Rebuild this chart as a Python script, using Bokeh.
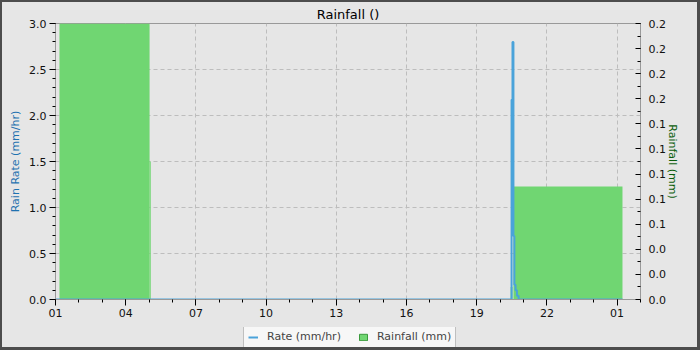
from bokeh.plotting import figure
from bokeh.layouts import column
from bokeh.models import Range1d, LinearAxis, FixedTicker, Legend, LegendItem
from bokeh.embed import file_html
from bokeh.resources import INLINE

# ---- data ----
# x positions are days counted from the first "01" tick
x_tick_pos = [0, 3, 6, 9, 12, 15, 18, 21, 24]
x_tick_labels = ["01", "04", "07", "10", "13", "16", "19", "22", "01"]
x_minor_pos = list(range(0, 26))

# rain rate (mm/hr), stepped series
rate_time = [0.0, 19.49, 19.53, 19.57, 19.61, 19.66, 19.72, 19.79, 24.23]
rate_mmhr = [0.0, 2.17, 2.80, 0.69, 0.16, 0.10, 0.04, 0.0, 0.0]

# rainfall (mm) bars
rain_start = [0.17, 4.02, 19.45, 19.57]
rain_end = [4.02, 4.07, 19.53, 24.23]
rain_mm = [0.22, 0.11, 0.01, 0.09]

left_ticks = [0.0, 0.5, 1.0, 1.5, 2.0, 2.5, 3.0]
left_labels = ["0.0", "0.5", "1.0", "1.5", "2.0", "2.5", "3.0"]
left_minor = [round(i * 0.1, 1) for i in range(31)]

right_ticks = [round(i * 0.02, 2) for i in range(12)]
right_labels = ["0.0", "0.0", "0.0", "0.1", "0.1", "0.1", "0.1", "0.1", "0.2", "0.2", "0.2", "0.2"]
right_minor = [round(i * 0.01, 2) for i in range(23)]

BLUE = "#4aa3da"
GREEN = "#70d672"
BG = "#e6e6e6"
FONT = "DejaVu Sans"

W = 695
H_MAIN, H_LEG = 325, 20
ML, MR, MT, MB = 53, 57, 20, 28

p = figure(width=W, height=H_MAIN, output_backend="svg", toolbar_location=None,
           x_range=Range1d(0, 25), y_range=Range1d(0, 3.0),
           min_border_left=ML, min_border_right=MR, min_border_top=MT, min_border_bottom=MB,
           background_fill_color=BG, border_fill_color=BG,
           outline_line_color="#999999")
p.extra_y_ranges = {"rain": Range1d(0, 0.22)}

p.title.text = "Rainfall ()"
p.title.align = "center"
p.title.text_font = FONT
p.title.text_font_size = "13px"
p.title.text_font_style = "normal"
p.title.text_color = "black"
p.title.standoff = 4
p.title.offset = 2

p.quad(left=rain_start, right=rain_end, bottom=0, top=rain_mm,
       y_range_name="rain", fill_color=GREEN, line_color=None)
p.step(rate_time, rate_mmhr, mode="after", line_width=2, line_color=BLUE)

# x axis
xt = FixedTicker(ticks=x_tick_pos, minor_ticks=x_minor_pos)
xa = p.xaxis[0]
xa.ticker = xt
xa.major_label_overrides = {k: v for k, v in zip(x_tick_pos, x_tick_labels)}

# left axis
ya = p.yaxis[0]
ya.ticker = FixedTicker(ticks=left_ticks, minor_ticks=left_minor)
ya.major_label_overrides = {k: v for k, v in zip(left_ticks, left_labels)}
ya.axis_label = "Rain Rate (mm/hr)"
ya.axis_label_text_color = "#1f72b0"

# right axis
ra = LinearAxis(y_range_name="rain",
                ticker=FixedTicker(ticks=right_ticks, minor_ticks=right_minor),
                axis_label="Rainfall (mm)")
ra.major_label_overrides = {k: v for k, v in zip(right_ticks, right_labels)}
ra.axis_label_text_color = "#0b5e0b"
p.add_layout(ra, "right")

for ax in (xa, ya, ra):
    ax.axis_line_color = "#999999"
    ax.major_tick_line_color = "black"
    ax.minor_tick_line_color = "black"
    ax.major_tick_out = 6
    ax.major_tick_in = 0
    ax.minor_tick_out = 3
    ax.minor_tick_in = 0
    ax.major_label_text_font = FONT
    ax.major_label_text_font_size = "11px"
    ax.major_label_text_color = "#111111"
    ax.major_label_standoff = 3
    ax.axis_label_text_font = FONT
    ax.axis_label_text_font_size = "11px"
    ax.axis_label_text_font_style = "normal"
    ax.axis_label_standoff = 4

ra.major_tick_out = 0
ra.major_tick_in = 5
ra.minor_tick_out = 0
ra.minor_tick_in = 3
ra.major_label_standoff = 8
ra.axis_label_standoff = -3

# grids
p.xgrid.ticker = xt
p.ygrid.ticker = FixedTicker(ticks=left_ticks)
for g in (p.xgrid[0], p.ygrid[0]):
    g.grid_line_color = "#bdbdbd"
    g.grid_line_dash = "4 3"
    g.grid_line_width = 1

# ---- legend strip (its own small figure so the legend is not clipped) ----
q = figure(width=W, height=H_LEG, output_backend="svg", toolbar_location=None,
           x_range=Range1d(0, 1), y_range=Range1d(0, 1),
           x_axis_type=None, y_axis_type=None,
           min_border_left=0, min_border_right=0, min_border_top=0, min_border_bottom=0,
           background_fill_color=BG, border_fill_color=BG, outline_line_color=None)
q.xgrid.visible = False
q.ygrid.visible = False
# stand-in renderers for the legend keys, placed outside the strip's visible range
k_rate = q.step(x=[5, 6], y=[5, 5], mode="after", line_width=2, line_color=BLUE)
k_rain = q.quad(left=[5], right=[6], bottom=[5], top=[6], fill_color=GREEN,
                line_color="#3a9a3c")

legend = Legend(items=[LegendItem(label="Rate (mm/hr)", renderers=[k_rate]),
                       LegendItem(label="Rainfall (mm)", renderers=[k_rain])],
                location=(188, -1), orientation="horizontal",
                glyph_width=10, glyph_height=8, label_height=12,
                label_standoff=9, spacing=17, padding=4, margin=0,
                label_text_font=FONT, label_text_font_size="11px",
                border_line_color="#888888", border_line_width=1,
                background_fill_color="#f7f7f7", background_fill_alpha=1.0)
q.add_layout(legend)

layout = column(p, q, spacing=0,
                styles={"border-style": "solid", "border-color": "#4d4d4d",
                        "border-width": "2px 3px 3px 2px",
                        "background-color": BG})

open("out.html", "w").write(file_html(layout, INLINE))
